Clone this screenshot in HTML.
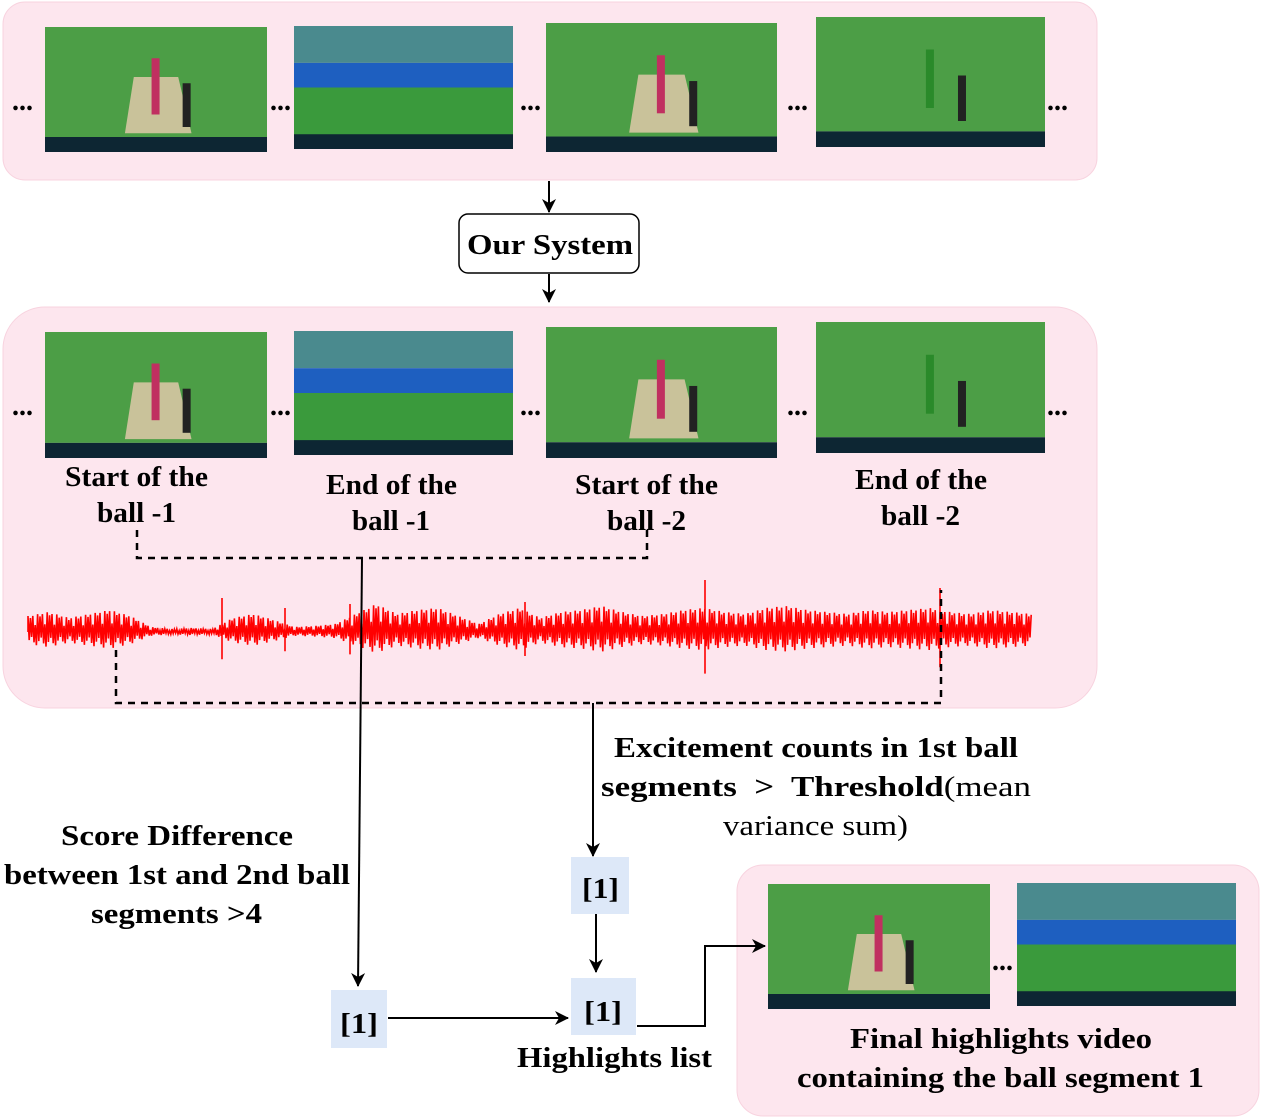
<!DOCTYPE html>
<html><head><meta charset="utf-8">
<style>
html,body{margin:0;padding:0;background:#fff;}
svg{display:block;font-family:"Liberation Serif",serif;}
.b{font-weight:bold;font-size:28px;fill:#000;}
</style></head>
<body>
<svg id="dia" width="1263" height="1119" viewBox="0 0 1263 1119" xmlns="http://www.w3.org/2000/svg">
<defs>
<marker id="ar" markerWidth="14" markerHeight="14" refX="13" refY="7" orient="auto" markerUnits="userSpaceOnUse">
<path d="M0,0 L14,7 L0,14 L4,7 z" fill="#000"/></marker>
</defs>
<rect x="3" y="2" width="1094" height="178" rx="22" fill="#fde6ee" stroke="#f8d3df"/>
<rect x="3" y="307" width="1094" height="401" rx="42" fill="#fde6ee" stroke="#f8d3df"/>
<rect x="737" y="865" width="522" height="251" rx="26" fill="#fde6ee" stroke="#f8d3df"/>
<g id="frames"></g>
<g id="dots" class="b"></g>

<line x1="549" y1="181" x2="549" y2="212" stroke="#000" stroke-width="2" marker-end="url(#ar)"/>
<rect x="459" y="214" width="180" height="59" rx="9" fill="#fff" stroke="#000" stroke-width="1.5"/>
<text class="b" x="467" y="254" font-size="30" textLength="166" lengthAdjust="spacingAndGlyphs">Our System</text>
<line x1="549" y1="274" x2="549" y2="302" stroke="#000" stroke-width="2" marker-end="url(#ar)"/>

<g class="b">
<text x="65" y="486" textLength="143" lengthAdjust="spacingAndGlyphs">Start of the</text>
<text x="97" y="522" textLength="79" lengthAdjust="spacingAndGlyphs">ball -1</text>
<text x="326" y="494" textLength="131" lengthAdjust="spacingAndGlyphs">End of the</text>
<text x="352" y="530" textLength="78" lengthAdjust="spacingAndGlyphs">ball -1</text>
<text x="575" y="494" textLength="143" lengthAdjust="spacingAndGlyphs">Start of the</text>
<text x="607" y="530" textLength="79" lengthAdjust="spacingAndGlyphs">ball -2</text>
<text x="855" y="489" textLength="132" lengthAdjust="spacingAndGlyphs">End of the</text>
<text x="881" y="525" textLength="79" lengthAdjust="spacingAndGlyphs">ball -2</text>
</g>

<polyline points="137,530 137,558 647,558 647,530" fill="none" stroke="#000" stroke-width="2.5" stroke-dasharray="7,6"/>
<path id="wave" fill="none" stroke="#ff0000" stroke-width="1.6"/>
<polyline points="116,650 116,703 941,703 941,590" fill="none" stroke="#000" stroke-width="2.5" stroke-dasharray="7,6"/>

<line x1="362" y1="558" x2="358" y2="986" stroke="#000" stroke-width="2" marker-end="url(#ar)"/>
<line x1="593" y1="703" x2="593" y2="856" stroke="#000" stroke-width="2" marker-end="url(#ar)"/>

<g class="b">
<text x="614" y="757" textLength="404" lengthAdjust="spacingAndGlyphs">Excitement counts in 1st ball</text>
<text x="601" y="796" textLength="430" lengthAdjust="spacingAndGlyphs" xml:space="preserve">segments  &gt;  Threshold<tspan font-weight="normal">(mean</tspan></text>
<text x="723" y="835" font-weight="normal" textLength="185" lengthAdjust="spacingAndGlyphs">variance sum)</text>
<text x="61" y="845" textLength="232" lengthAdjust="spacingAndGlyphs">Score Difference</text>
<text x="4" y="884" textLength="346" lengthAdjust="spacingAndGlyphs">between 1st and 2nd ball</text>
<text x="91" y="923" textLength="171" lengthAdjust="spacingAndGlyphs">segments &gt;4</text>
</g>

<rect x="571" y="857" width="58" height="57" fill="#dde8f8"/>
<text class="b" x="582" y="898" font-size="31" textLength="37" lengthAdjust="spacingAndGlyphs">[1]</text>
<line x1="596" y1="914" x2="596" y2="972" stroke="#000" stroke-width="2" marker-end="url(#ar)"/>
<rect x="571" y="978" width="65" height="57" fill="#dde8f8"/>
<text class="b" x="584" y="1021" font-size="31" textLength="38" lengthAdjust="spacingAndGlyphs">[1]</text>
<rect x="331" y="990" width="56" height="58" fill="#dde8f8"/>
<text class="b" x="340" y="1033" font-size="31" textLength="38" lengthAdjust="spacingAndGlyphs">[1]</text>
<line x1="388" y1="1018" x2="568" y2="1018" stroke="#000" stroke-width="2" marker-end="url(#ar)"/>
<text class="b" x="517" y="1067" textLength="195" lengthAdjust="spacingAndGlyphs">Highlights list</text>
<polyline points="637,1026 705,1026 705,946 765,946" fill="none" stroke="#000" stroke-width="2" marker-end="url(#ar)"/>
<text class="b" x="850" y="1048" textLength="302" lengthAdjust="spacingAndGlyphs">Final highlights video</text>
<text class="b" x="797" y="1087" textLength="407" lengthAdjust="spacingAndGlyphs">containing the ball segment 1</text>
</svg>
<script>
// waveform envelope (half-amplitude in px) along x from 28 to 1032
const waveEnv=[16,20,14,18,22,16,5,3,4,3,14,18,12,5,6,8,18,28,18,22,24,16,8,18,24,14,20,22,26,20,16,18,22,24,20,18,24,26,22,20,18,22,20,22,24,20,18,22,20,18];
const waveSpikes=[[222,34],[350,28],[705,52],[940,44],[525,30],[285,24]];
const NS='http://www.w3.org/2000/svg';
const wx0=28,wx1=1032,wy=632;
function envAt(x){const t=(x-wx0)/(wx1-wx0)*(waveEnv.length-1);const i=Math.floor(t),f=t-i;const a=waveEnv[i],b=waveEnv[Math.min(i+1,waveEnv.length-1)];return a+(b-a)*f;}
let d='M'+wx0+','+wy;const pat=[1,0.5,0.85,0.3,0.95,0.6,0.4,0.75];
let k=0;
for(let x=wx0;x<=wx1;x+=1.2){const a=envAt(x)*pat[k%pat.length];const s=k%2?1:-1;d+=' L'+x.toFixed(1)+','+(wy+s*a).toFixed(1);k++;}
waveSpikes.forEach(s=>{d+=' M'+s[0]+','+(wy-s[1])+' L'+s[0]+','+(wy+s[1]*0.8);});
document.getElementById('wave').setAttribute('d',d);

const frameBoxes=[[45,27,222,125,'p'],[294,26,219,123,'c'],[546,23,231,129,'p'],[816,17,229,130,'b'],
[45,332,222,126,'p'],[294,331,219,124,'c'],[546,327,231,131,'p'],[816,322,229,131,'b'],
[768,884,222,125,'p'],[1017,883,219,123,'c']];
const fg=document.getElementById('frames');
function el(tag,attrs,parent){const e=document.createElementNS(NS,tag);for(const k in attrs)e.setAttribute(k,attrs[k]);parent.appendChild(e);return e;}
frameBoxes.forEach((f,i)=>{
 const [x,y,w,h,t]=f;
 const g=el('g',{},fg);
 
 
 if(t==='c'){
  el('rect',{x:x,y:y,width:w,height:h*0.3,fill:'#4a8a8e'},g);
  el('rect',{x:x,y:y+h*0.3,width:w,height:h*0.2,fill:'#1e5fc0'},g);
  el('rect',{x:x,y:y+h*0.5,width:w,height:h*0.4,fill:'#3a9a3c'},g);
 } else {
  el('rect',{x:x,y:y,width:w,height:h*0.88,fill:'#4c9e46'},g);
  if(t==='p'){el('polygon',{points:(x+w*0.4)+','+(y+h*0.4)+' '+(x+w*0.6)+','+(y+h*0.4)+' '+(x+w*0.66)+','+(y+h*0.85)+' '+(x+w*0.36)+','+(y+h*0.85),fill:'#c9c29a'},g);}
  el('rect',{x:x+w*0.48,y:y+h*0.25,width:8,height:h*0.45,fill:t==='b'?'#2a8a2a':'#c03060'},g);
  el('rect',{x:x+w*0.62,y:y+h*0.45,width:8,height:h*0.35,fill:'#222'},g);
 }
 el('rect',{x:x,y:y+h*0.88,width:w,height:h*0.12,fill:'#0d2633'},g);
});
const dotsX=[[12,110],[270,110],[520,110],[787,110],[1047,110],[12,415],[270,415],[520,415],[787,415],[1047,415],[992,970]];
const dg=document.getElementById('dots');
dotsX.forEach(p=>{const t=el('text',{x:p[0],y:p[1]},dg);t.textContent='...';
 
 });
</script>
</body></html>
